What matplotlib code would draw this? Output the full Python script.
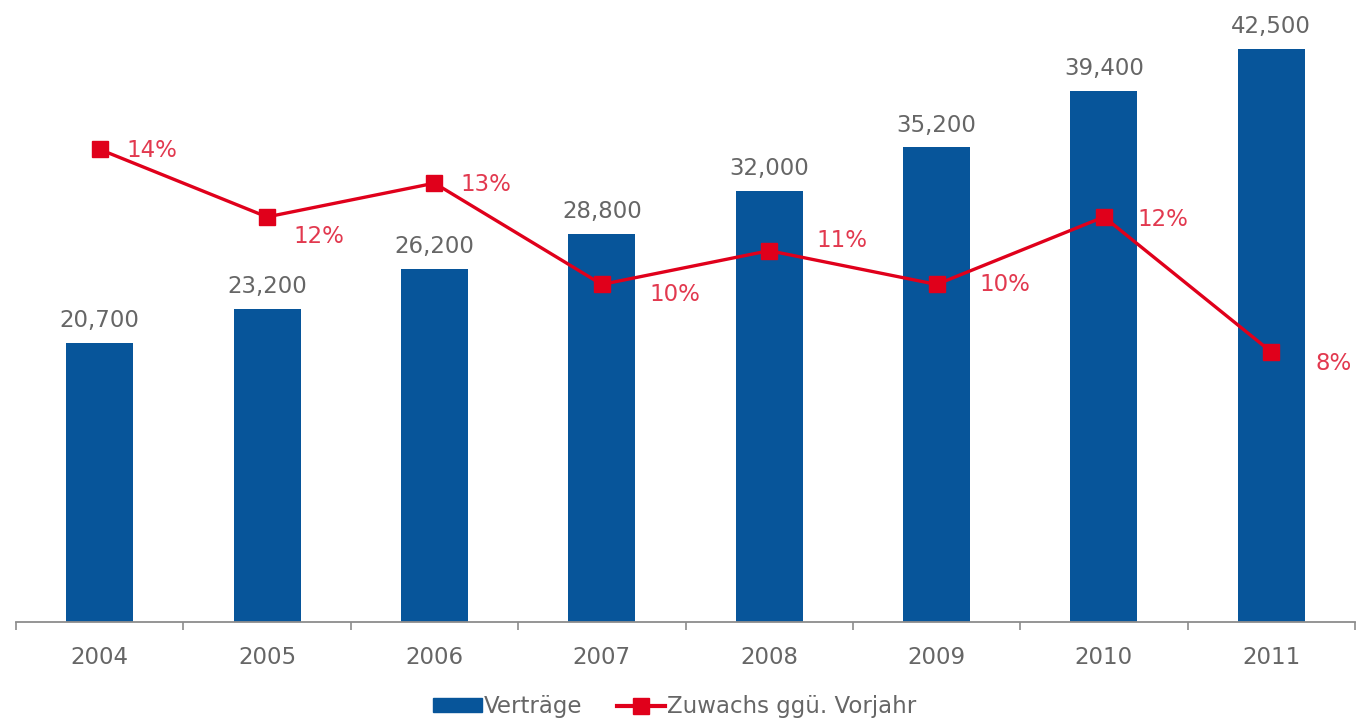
import matplotlib

matplotlib.use("Agg")

import matplotlib.pyplot as plt
import numpy as np
from matplotlib.lines import Line2D
from matplotlib.patches import Patch

years = ["2004", "2005", "2006", "2007", "2008", "2009", "2010", "2011"]
contracts = [20700, 23200, 26200, 28800, 32000, 35200, 39400, 42500]
growth_pct = [14, 12, 13, 10, 11, 10, 12, 8]

# label offsets (points) for the percentage annotations
pct_offsets = [(19, -1), (19, -14), (19, -1), (34, -7), (34, 7), (31, 0), (24, -2), (32, -8)]

BLUE = "#07559a"
RED = "#e0001b"
RED_TEXT = "#e2394f"
GRAY = "#666666"
AXIS_GRAY = "#8c8c8c"
FS = 16.5

plt.rcParams["font.family"] = ["DejaVu Sans"]

fig = plt.figure(figsize=(13.58, 7.23), dpi=100)
ax = fig.add_axes([16 / 1358, 1 - 622 / 723, (1355 - 16) / 1358, (622 - 10) / 723])

x = np.arange(len(years))
bars = ax.bar(x, contracts, width=0.4, color=BLUE, zorder=2)

for xi, val in zip(x, contracts):
    ax.annotate(f"{val:,}", (xi, val), xytext=(0, 11.5), textcoords="offset points",
                ha="center", va="baseline", fontsize=FS, color=GRAY)

ax.set_xlim(-0.5, len(years) - 0.5)
ax.set_ylim(0, 45400)
ax.set_yticks([])
for side in ["left", "right", "top"]:
    ax.spines[side].set_visible(False)
ax.spines["bottom"].set_color(AXIS_GRAY)
ax.spines["bottom"].set_linewidth(1.3)

ax.set_xticks(x)
ax.set_xticklabels(years, fontsize=FS, color=GRAY)
ax.tick_params(axis="x", which="major", length=0, pad=17)
ax.set_xticks(np.arange(-0.5, len(years)), minor=True)
ax.tick_params(axis="x", which="minor", length=6, width=1.2, color=AXIS_GRAY, direction="out")

ax2 = ax.twinx()
ax2.set_ylim(0, 18.13)
ax2.axis("off")
ax2.plot(x, growth_pct, color=RED, linewidth=2.4, marker="s", markersize=12,
         markerfacecolor=RED, markeredgecolor=RED, zorder=3)
for xi, val, off in zip(x, growth_pct, pct_offsets):
    ax2.annotate(f"{val}%", (xi, val), xytext=off, textcoords="offset points",
                 ha="left", va="center", fontsize=FS, color=RED_TEXT)

handles = [
    Patch(facecolor=BLUE, edgecolor=BLUE),
    Line2D([0], [0], color=RED, linewidth=3, marker="s", markersize=11,
           markerfacecolor=RED, markeredgecolor=RED),
]
leg = fig.legend(handles, ["Verträge", "Zuwachs ggü. Vorjahr"], loc="center",
                 bbox_to_anchor=(0.497, 1 - 707 / 723), ncol=2, frameon=False,
                 fontsize=FS, handlelength=2.1, handleheight=0.55, handletextpad=0.1,
                 columnspacing=1.5)
for text in leg.get_texts():
    text.set_color(GRAY)

fig.savefig("out.png", dpi=100)
plt.close(fig)
